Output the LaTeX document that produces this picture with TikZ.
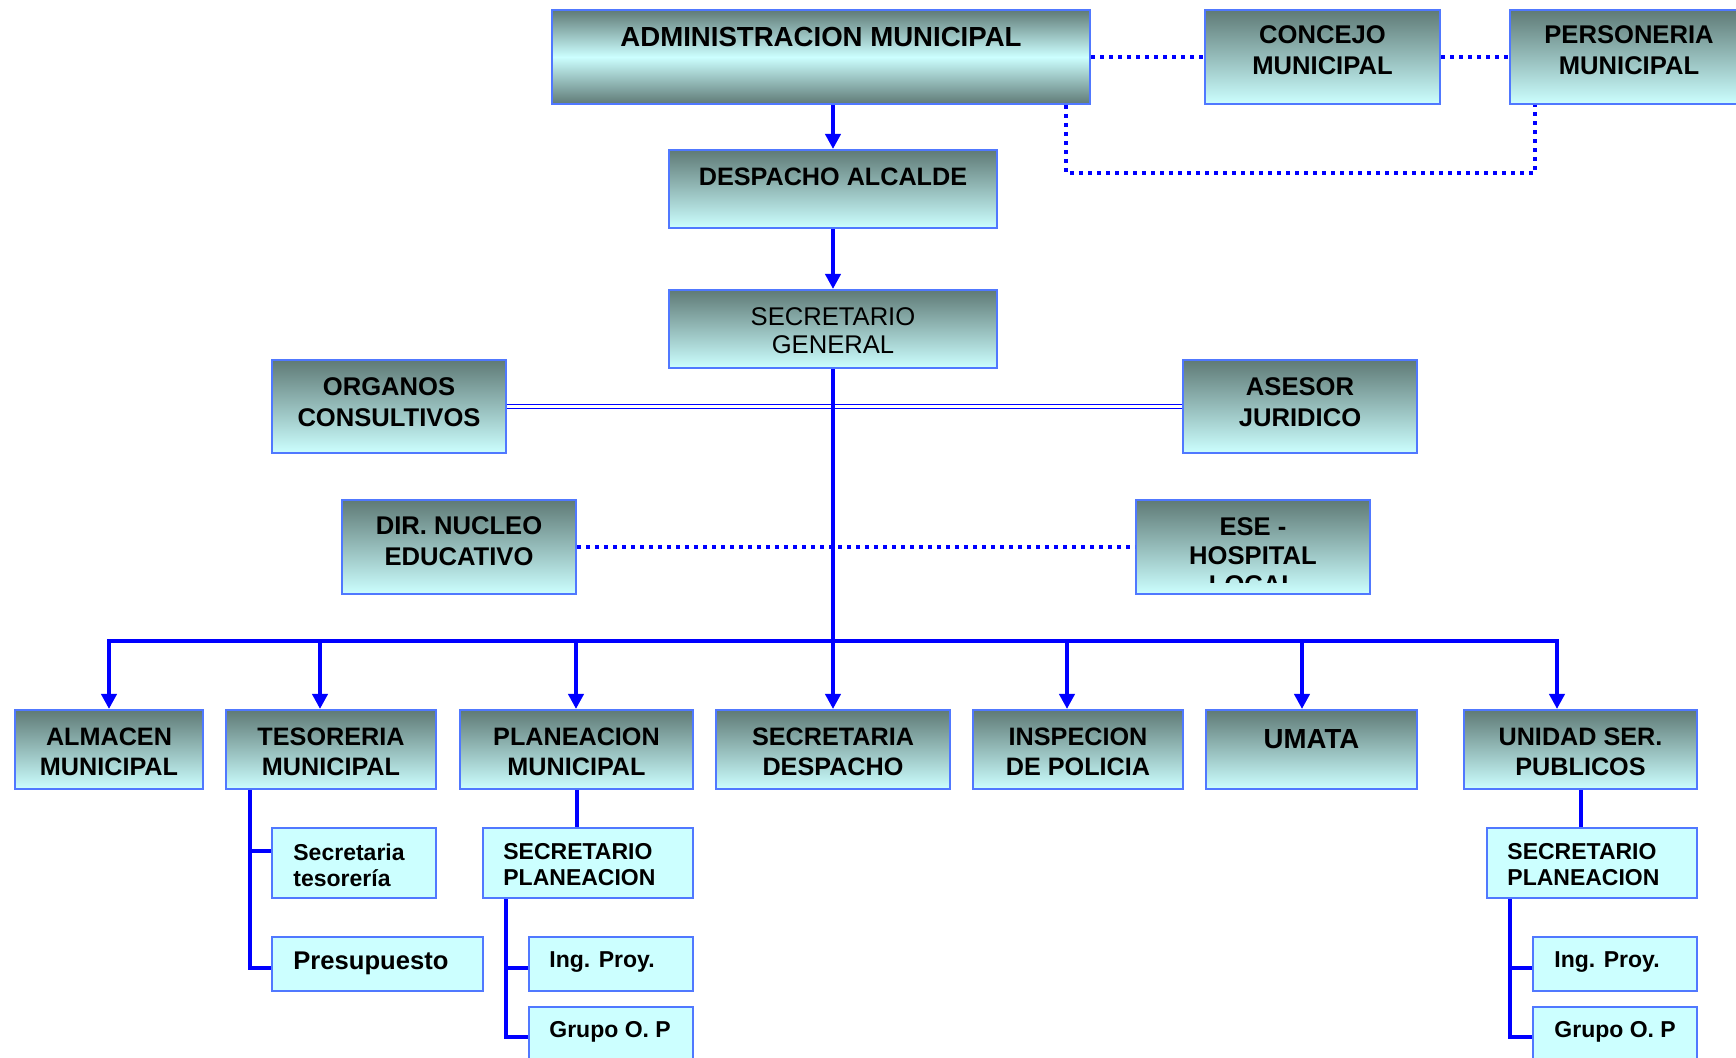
\documentclass[tikz,border=0pt]{standalone}
\usepackage{fontspec}
\setmainfont{Liberation Sans}
\usetikzlibrary{arrows.meta,calc}
\definecolor{dk}{RGB}{95,122,118}
\definecolor{lt}{RGB}{204,255,255}
\definecolor{bd}{RGB}{80,120,255}
\definecolor{ln}{RGB}{0,0,255}
\tikzset{
  box/.style={draw=bd, line width=1pt, rectangle, inner sep=0pt, top color=dk, bottom color=lt},
  flat/.style={draw=bd, line width=1pt, rectangle, inner sep=0pt, fill=lt},
  txt/.style={inner sep=0pt, align=center, font=\bfseries\fontsize{12.8}{15.5}\selectfont},
  subtxt/.style={inner sep=0pt, align=left, font=\bfseries\fontsize{11.5}{13}\selectfont},
  conn/.style={draw=ln, line width=2pt},
  arr/.style={conn, -{Triangle[width=7.5pt,length=7.5pt]}},
  dots/.style={draw=ln, line width=2pt, dash pattern=on 2pt off 2.5pt},
  dbl/.style={draw=ln, line width=0.85pt, double=white, double distance=1.2pt},
}
\begin{document}
\begin{tikzpicture}[x=0.5pt,y=-0.5pt]
\useasboundingbox (0,0) rectangle (1736,1058);
\clip (0,0) rectangle (1736,1058);

% ---- boxes ----
\node[box, bottom color=dk, middle color=lt, minimum width=269pt, minimum height=47pt] (adm) at (821,57) {};
\node[box, minimum width=117.5pt, minimum height=47pt] (con) at (1322.5,57) {};
\node[box, minimum width=119pt, minimum height=47pt] (per) at (1629,57) {};
\node[box, minimum width=164pt, minimum height=39pt] (des) at (833,189) {};
\node[box, minimum width=164pt, minimum height=39pt] (sg) at (833,329) {};
\node[box, minimum width=117pt, minimum height=46.5pt] (org) at (389,406.5) {};
\node[box, minimum width=117pt, minimum height=46.5pt] (ase) at (1300,406.5) {};
\node[box, minimum width=117pt, minimum height=47pt] (dir) at (459,547) {};
\node[box, minimum width=117pt, minimum height=47pt] (ese) at (1253,547) {};

\node[box, minimum width=94pt, minimum height=39.5pt] (alm) at (109,749.5) {};
\node[box, minimum width=105pt, minimum height=39.5pt] (tes) at (331,749.5) {};
\node[box, minimum width=116.5pt, minimum height=39.5pt] (pla) at (576.5,749.5) {};
\node[box, minimum width=117pt, minimum height=39.5pt] (sec) at (833,749.5) {};
\node[box, minimum width=105pt, minimum height=39.5pt] (ins) at (1078,749.5) {};
\node[box, minimum width=105.5pt, minimum height=39.5pt] (uma) at (1311.5,749.5) {};
\node[box, minimum width=116.5pt, minimum height=39.5pt] (uni) at (1580.5,749.5) {};

\node[flat, minimum width=82pt, minimum height=35pt] (tes1) at (354,863) {};
\node[flat, minimum width=105.5pt, minimum height=27pt] (tes2) at (377.5,964) {};
\node[flat, minimum width=105pt, minimum height=35pt] (pla1) at (588,863) {};
\node[flat, minimum width=82pt, minimum height=27pt] (pla2) at (611,964) {};
\node[flat, minimum width=82pt, minimum height=27pt] (pla3) at (611,1034) {};
\node[flat, minimum width=105pt, minimum height=35pt] (uni1) at (1592,863) {};
\node[flat, minimum width=82pt, minimum height=27pt] (uni2) at (1615,964) {};
\node[flat, minimum width=82pt, minimum height=27pt] (uni3) at (1615,1034) {};

% ---- texts ----
\node[txt, font=\bfseries\fontsize{13.8}{16}\selectfont] (adm-t) at (821,37) {ADMINISTRACION MUNICIPAL};
\node[txt] (con-t) at (1322.5,50.5) {CONCEJO\\MUNICIPAL};
\node[txt] (per-t) at (1629,50.5) {PERSONERIA\\MUNICIPAL};
\node[txt, font=\bfseries\fontsize{12.6}{15}\selectfont] (des-t) at (833,176.5) {DESPACHO ALCALDE};
\node[txt, font=\fontsize{12.8}{14}\selectfont] (sg-t) at (833,331) {SECRETARIO\\GENERAL};
\node[txt] (org-t) at (389,402) {ORGANOS\\CONSULTIVOS};
\node[txt] (ase-t) at (1300,402) {ASESOR\\JURIDICO};
\node[txt] (dir-t) at (459,541) {DIR. NUCLEO\\EDUCATIVO};
\begin{scope}
  \clip (1136,500) rectangle (1370,583);
  \node[txt, font=\bfseries\fontsize{12.8}{14.5}\selectfont] (ese-t) at (1253,556) {ESE -\\HOSPITAL\\LOCAL};
\end{scope}
\node[txt, font=\bfseries\fontsize{12.6}{15}\selectfont] (alm-t) at (109,752) {ALMACEN\\MUNICIPAL};
\node[txt, font=\bfseries\fontsize{12.6}{15}\selectfont] (tes-t) at (331,752) {TESORERIA\\MUNICIPAL};
\node[txt, font=\bfseries\fontsize{12.6}{15}\selectfont] (pla-t) at (576.5,752) {PLANEACION\\MUNICIPAL};
\node[txt, font=\bfseries\fontsize{12.6}{15}\selectfont] (sec-t) at (833,752) {SECRETARIA\\DESPACHO};
\node[txt, font=\bfseries\fontsize{12.6}{15}\selectfont] (ins-t) at (1078,752) {INSPECION\\DE POLICIA};
\node[txt, font=\bfseries\fontsize{13.8}{15}\selectfont] (uma-t) at (1311.5,739) {UMATA};
\node[txt, font=\bfseries\fontsize{12.6}{15}\selectfont] (uni-t) at (1580.5,752) {UNIDAD SER.\\PUBLICOS};

\node[subtxt, anchor=west] (tes1-t) at (293,865) {Secretaria\\tesorería};
\node[subtxt, anchor=west, font=\bfseries\fontsize{12.8}{15}\selectfont] (tes2-t) at (293,963) {Presupuesto};
\node[subtxt, anchor=west] (pla1-t) at (503,865) {SECRETARIO\\PLANEACION};
\node[subtxt, anchor=west] (pla2-t) at (549,962) {Ing. Proy.};
\node[subtxt, anchor=west] (pla3-t) at (549,1032) {Grupo O. P};
\node[subtxt, anchor=west] (uni1-t) at (1507,865) {SECRETARIO\\PLANEACION};
\node[subtxt, anchor=west] (uni2-t) at (1554,962) {Ing. Proy.};
\node[subtxt, anchor=west] (uni3-t) at (1554,1032) {Grupo O. P};

% ---- connectors ----
\draw[dots] (adm.east) -- (con.west);
\draw[dots] (con.east) -- (per.west);
\coordinate (d1) at (1066,173);
\coordinate (d2) at (1535,173);
\draw[dots] (d1 |- adm.south) -- (d1) -- (d2) -- (d2 |- per.south);
\draw[dots] (dir.east) -- (ese.west);
\draw[dbl] (org.east) -- (ase.west);

\draw[arr] (des.north |- adm.south) -- (des.north);
\draw[arr] (des.south) -- (sg.north);

\coordinate (bl) at (109,641);
\coordinate (br) at (1557,641);
\draw[conn, line cap=rect] (bl) -- (br);
\draw[arr] (sg.south) -- (sec.north);
\coordinate (b-tes) at (320,641);
\coordinate (b-pla) at (576,641);
\coordinate (b-ins) at (1067,641);
\coordinate (b-uma) at (1302,641);
\draw[arr] (bl) -- (bl |- alm.north);
\draw[arr] (b-tes) -- (b-tes |- tes.north);
\draw[arr] (b-pla) -- (b-pla |- pla.north);
\draw[arr] (b-ins) -- (b-ins |- ins.north);
\draw[arr] (b-uma) -- (b-uma |- uma.north);
\draw[arr] (br) -- (br |- uni.north);

\coordinate (ta) at (250,851);
\coordinate (tb) at (250,968);
\draw[conn] (ta |- tes.south) -- (tb) -- (tb -| tes2.west);
\draw[conn] (ta) -- (ta -| tes1.west);

\draw[conn] (pla.south) -- (pla.south |- pla1.north);
\coordinate (pa) at (506,968);
\coordinate (pb) at (506,1037);
\draw[conn] (pa |- pla1.south) -- (pb) -- (pb -| pla3.west);
\draw[conn] (pa) -- (pa -| pla2.west);

\draw[conn] (uni.south) -- (uni.south |- uni1.north);
\coordinate (ua) at (1510,968);
\coordinate (ub) at (1510,1037);
\draw[conn] (ua |- uni1.south) -- (ub) -- (ub -| uni3.west);
\draw[conn] (ua) -- (ua -| uni2.west);
\end{tikzpicture}
\end{document}
